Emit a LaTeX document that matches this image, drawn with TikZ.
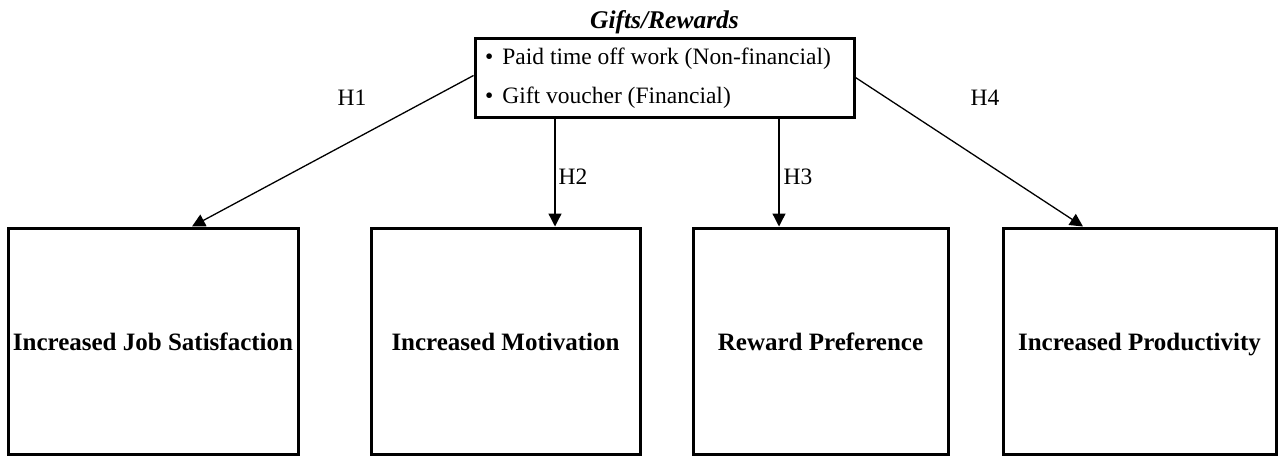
\documentclass[tikz,border=0pt]{standalone}
\usepackage{fontspec}
\setmainfont{Liberation Serif}
\usetikzlibrary{arrows.meta,calc}
\begin{document}
\begin{tikzpicture}[x=1pt,y=-1pt,
  outbox/.style={draw,line width=3pt,minimum height=226pt,inner sep=0pt,text height=22pt,text depth=4pt,font=\fontsize{25}{28}\selectfont\bfseries},
  conn/.style={line width=1.3pt,-{Triangle[length=13pt,width=13pt]}},
  hlab/.style={font=\fontsize{23.5}{26}\selectfont,inner sep=0pt},
  item/.style={font=\fontsize{23.5}{26}\selectfont,inner sep=0pt,anchor=base west}]
\useasboundingbox (0,0) rectangle (1281,456);
\node[anchor=base,inner sep=0pt,font=\fontsize{25.5}{28}\selectfont\bfseries\itshape] (title) at (664.5,28) {Gifts/Rewards};
\node[draw,line width=3pt,minimum width=379pt,minimum height=79pt,inner sep=0pt] (gifts) at (664.5,77.5) {};
\node[item] (b1) at (485,64) {\textbullet\hspace{9pt}Paid time off work (Non-financial)};
\node[item] (b2) at (485,103) {\textbullet\hspace{9pt}Gift voucher (Financial)};
\node[outbox,minimum width=290pt] (js) at (153,341) {Increased Job Satisfaction};
\node[outbox,minimum width=269pt] (mo) at (505.5,341) {Increased Motivation};
\node[outbox,minimum width=255pt] (rp) at (820.5,341) {Reward Preference};
\node[outbox,minimum width=273pt] (pr) at (1139.5,341) {Increased Productivity};
\draw[conn] ([yshift=2pt]gifts.west) -- ([xshift=39pt]js.north);
\draw[conn] ([xshift=-109.5pt]gifts.south) -- ([xshift=49.5pt]mo.north);
\draw[conn] ([xshift=114.5pt]gifts.south) -- ([xshift=-41.5pt]rp.north);
\draw[conn] ([yshift=0pt]gifts.east) -- ([xshift=-56.5pt]pr.north);
\node[hlab] (h1) at (352,98) {H1};
\node[hlab] (h2) at (573,177) {H2};
\node[hlab] (h3) at (798,177) {H3};
\node[hlab] (h4) at (985,98) {H4};
\end{tikzpicture}
\end{document}
